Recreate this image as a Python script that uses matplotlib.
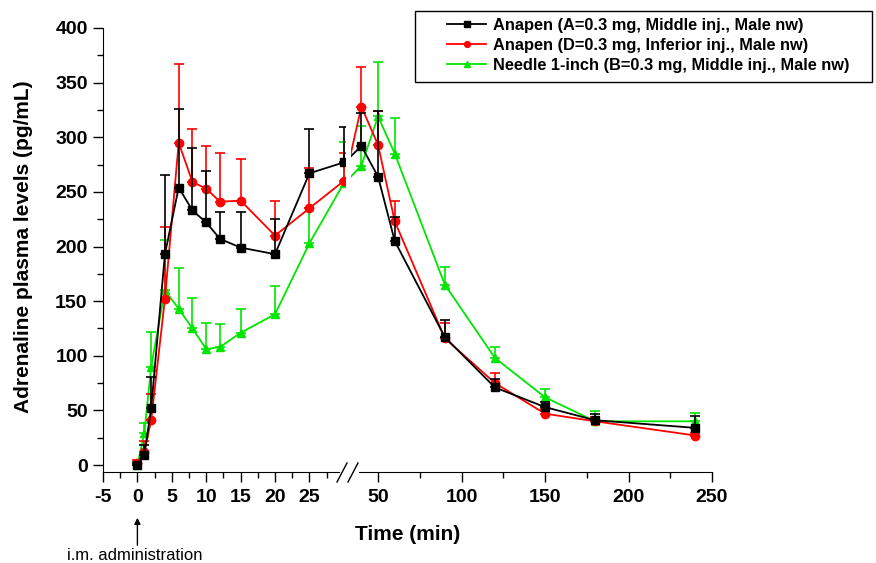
import numpy as np
import matplotlib
matplotlib.use("Agg")
import matplotlib.pyplot as plt
from matplotlib.lines import Line2D
from matplotlib.patches import Rectangle
from matplotlib.ticker import FixedLocator, MultipleLocator

plt.rcParams['font.family'] = ['Liberation Sans', 'DejaVu Sans']
plt.rcParams['font.weight'] = 'bold'
plt.rcParams['axes.unicode_minus'] = False

# -----------------------
# Data
# -----------------------
time_min = [0, 1, 2, 4, 6, 8, 10, 12, 15, 20, 25, 30, 40, 50, 60, 90, 120, 150, 180, 240]

anapen_a = [0, 9, 52, 193, 254, 233, 222, 207, 199, 193, 267, 277, 292, 264, 205, 117, 71, 53, 41, 34]
anapen_a_err = [2, 9, 29, 72, 72, 57, 47, 25, 33, 32, 41, 32, 30, 60, 22, 16, 8, 5, 6, 11]

anapen_d = [2, 12, 41, 152, 295, 259, 253, 241, 242, 210, 235, 260, 328, 293, 223, 116, 75, 47, 40, 27]
anapen_d_err = [3, 10, 24, 66, 72, 49, 39, 45, 38, 32, 37, 26, 36, 31, 19, 14, 9, 4, 4, 2]

needle_b = [0, 29, 90, 160, 143, 125, 106, 108, 121, 138, 203, 258, 274, 319, 285, 165, 98, 62, 40, 40]
needle_b_err = [3, 9, 32, 46, 37, 28, 24, 21, 22, 26, 32, 38, 36, 50, 33, 16, 10, 8, 9, 8]

series = [
    ("Anapen (A=0.3 mg, Middle inj., Male nw)", anapen_a, anapen_a_err, 'black', 's'),
    ("Anapen (D=0.3 mg, Inferior inj., Male nw)", anapen_d, anapen_d_err, '#ff0000', 'o'),
    ("Needle 1-inch (B=0.3 mg, Middle inj., Male nw)", needle_b, needle_b_err, '#00e600', '^'),
]

left_major = [-5, 0, 5, 10, 15, 20, 25]
left_minor = [-2.5, 2.5, 7.5, 12.5, 17.5, 22.5, 27.5]
right_major = [50, 100, 150, 200, 250]
right_minor = [75, 125, 175, 225]

# -----------------------
# Figure with broken x axis
# -----------------------
W, H = 876, 563
fig = plt.figure(figsize=(W / 100, H / 100), dpi=100)

def px_box(x0, x1, y_top, y_bot):
    return [x0 / W, 1 - y_bot / H, (x1 - x0) / W, (y_bot - y_top) / H]

ax1 = fig.add_axes(px_box(103, 345, 28, 472))
ax2 = fig.add_axes(px_box(351, 712, 28, 472), sharey=ax1)

handles = []
for ax in (ax1, ax2):
    for i, (label, vals, err, color, marker) in enumerate(reversed(series)):
        cont = ax.errorbar(time_min, vals, yerr=[np.zeros(len(err)), err],
                           color=color, marker=marker, markersize=6, linewidth=1.3,
                           elinewidth=1.2, capsize=3.5, capthick=1.2, label=label,
                           zorder=3 + i)
        if ax is ax1:
            handles.append(cont[0])
handles = handles[::-1]

ax1.set_xlim(-5, 30.17)
ax2.set_xlim(33.8, 250)
ax1.set_ylim(-6.4, 400)

ax1.xaxis.set_major_locator(FixedLocator(left_major))
ax1.xaxis.set_minor_locator(FixedLocator(left_minor))
ax2.xaxis.set_major_locator(FixedLocator(right_major))
ax2.xaxis.set_minor_locator(FixedLocator(right_minor))
ax1.yaxis.set_major_locator(MultipleLocator(50))
ax1.yaxis.set_minor_locator(MultipleLocator(25))

for ax in (ax1, ax2):
    ax.spines['top'].set_visible(False)
    ax.spines['right'].set_visible(False)
    ax.tick_params(which='major', direction='out', length=7.5, width=1, labelsize=14, pad=3.5)
    ax.tick_params(which='minor', direction='out', length=4, width=1)
    ax.tick_params(axis='x', which='major', pad=5)
    for lab in ax.get_xticklabels() + ax.get_yticklabels():
        lab.set_fontweight('bold')
    ax.set_facecolor('none')

ax2.spines['left'].set_visible(False)
ax2.tick_params(axis='y', which='both', left=False, labelleft=False)
ax1.spines['bottom'].set_bounds(-5, 29.3)
ax2.spines['bottom'].set_bounds(38.5, 250)

# break marks "//"
for x0 in (337, 348):
    fig.add_artist(Line2D([x0 / W, (x0 + 10) / W], [1 - 482 / H, 1 - 463 / H],
                          transform=fig.transFigure, color='black', lw=1))

# -----------------------
# Labels
# -----------------------
fig.text(24 / W, 1 - 247 / H, "Adrenaline plasma levels (pg/mL)", rotation=90,
         ha='center', va='center', fontsize=15, fontweight='bold')
fig.text(408 / W, 1 - 535 / H, "Time (min)", ha='center', va='center',
         fontsize=15, fontweight='bold')

ax1.annotate('', xy=(0, 1 - 515 / H), xytext=(0, 1 - 548 / H),
             xycoords=('data', 'figure fraction'), textcoords=('data', 'figure fraction'),
             arrowprops=dict(arrowstyle='-|>', color='black', lw=1, mutation_scale=9))
fig.text(134.5 / W, 1 - 556 / H, "i.m. administration", ha='center', va='center',
         fontsize=12, fontweight='normal')

# -----------------------
# Legend (frame drawn separately, wider than contents)
# -----------------------
fig.add_artist(Rectangle((415 / W, 1 - 82 / H), (872 - 415) / W, (82 - 11) / H,
                         transform=fig.transFigure, facecolor='white',
                         edgecolor='black', linewidth=1, zorder=5))
leg = fig.legend(handles, [s[0] for s in series], loc='upper left',
                 bbox_to_anchor=(447 / W, 1 - 18 / H), frameon=False,
                 prop={'size': 11.8, 'weight': 'bold'}, markerscale=0.7,
                 handlelength=2.4, handletextpad=0.4, borderpad=0,
                 labelspacing=0.3, borderaxespad=0)
leg.set_zorder(6)

fig.savefig("out.png", dpi=100)
